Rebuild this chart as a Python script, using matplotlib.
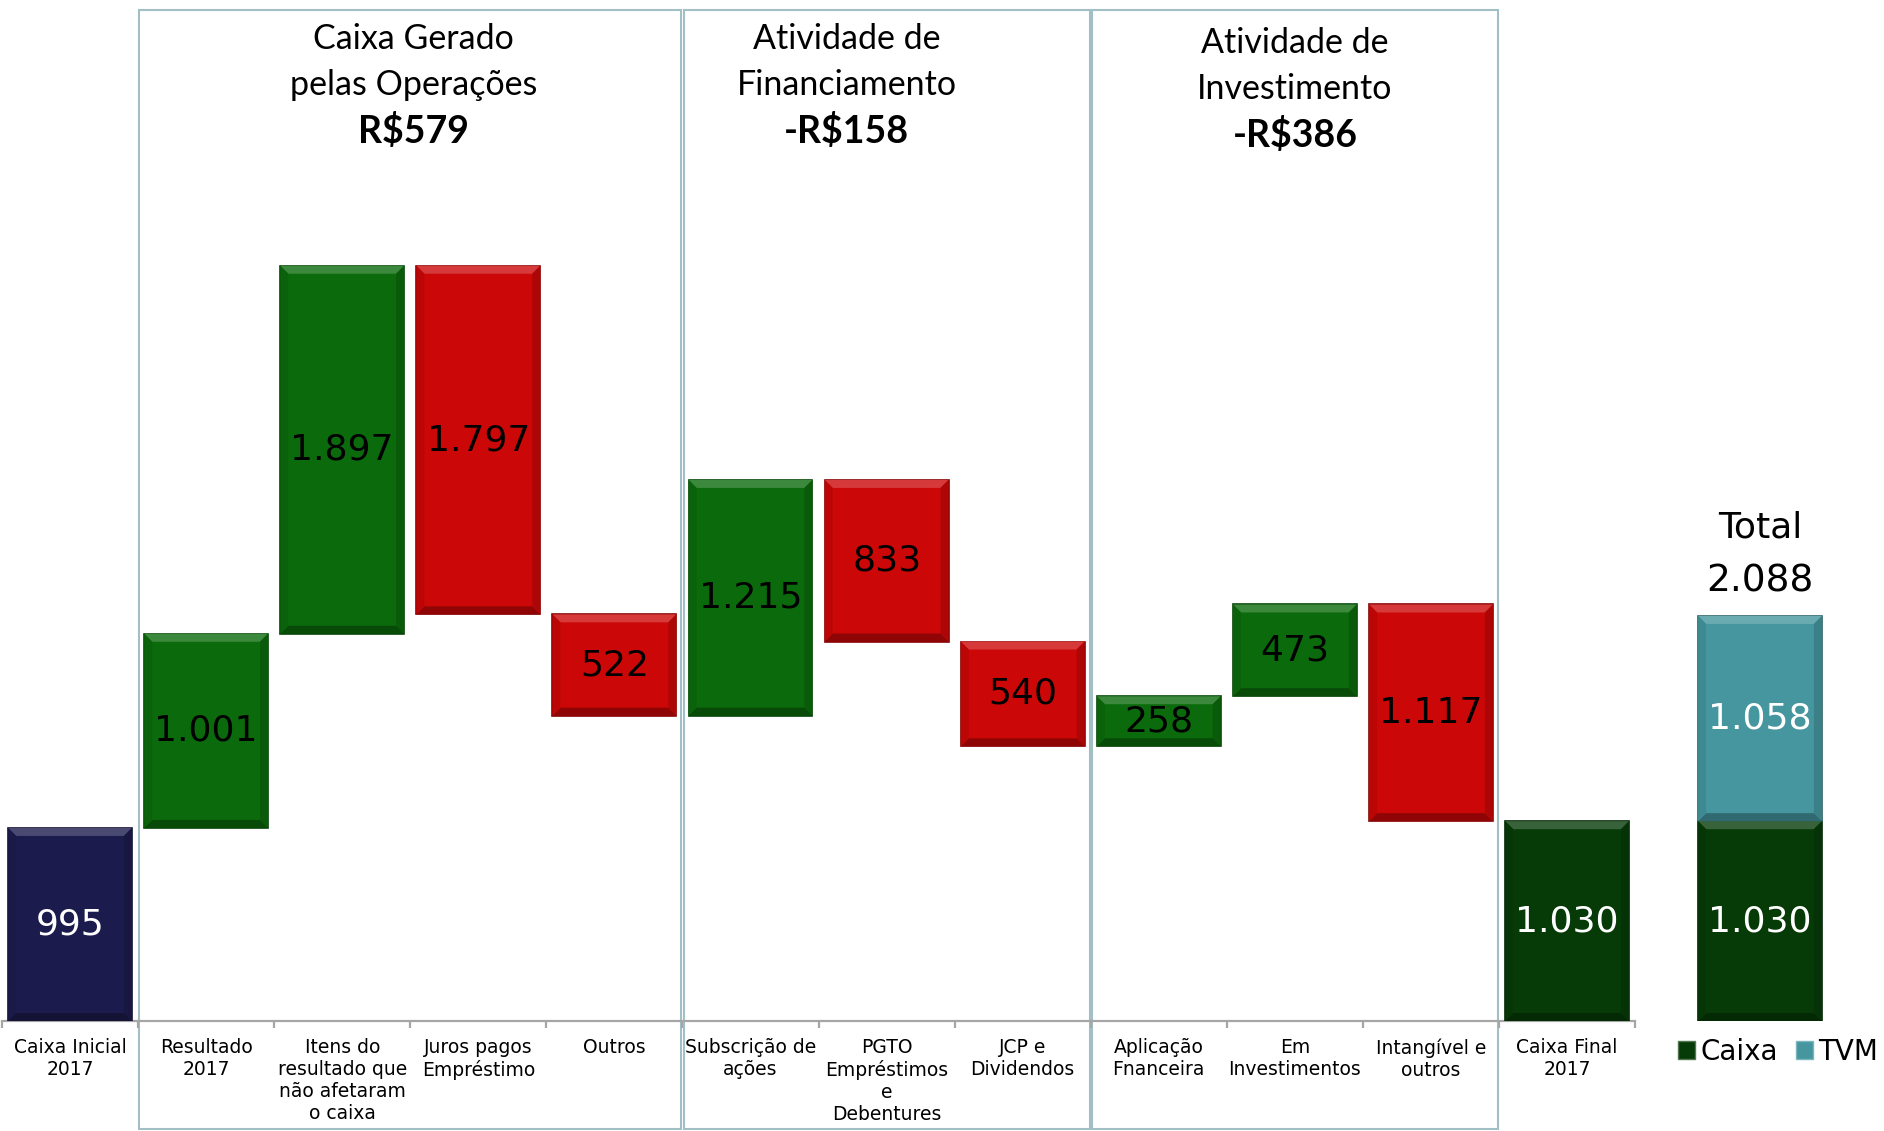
import matplotlib
matplotlib.use('Agg')
import matplotlib.pyplot as plt
from matplotlib.patches import Rectangle, Patch, Polygon
from matplotlib.colors import to_rgb
import numpy as np

# ---------------- data ----------------
categories = ["Caixa Inicial\n2017", "Resultado\n2017",
              "Itens do\nresultado que\nnão afetaram\no caixa",
              "Juros pagos\nEmpréstimo", "Outros", "Subscrição de\nações",
              "PGTO\nEmpréstimos\ne\nDebentures", "JCP e\nDividendos",
              "Aplicação\nFnanceira", "Em\nInvestimentos", "Intangível e\noutros",
              "Caixa Final\n2017"]
changes = [995, 1001, 1897, -1797, -522, 1215, -833, -540, 258, 473, -1117, 1030]
value_labels = ["995", "1.001", "1.897", "1.797", "522", "1.215", "833", "540",
                "258", "473", "1.117", "1.030"]
kinds = ["start", "pos", "pos", "neg", "neg", "pos", "neg", "neg", "pos", "pos", "neg", "end"]

total_series = ["Caixa", "TVM"]
total_values = [1030, 1058]
total_value_labels = ["1.030", "1.058"]
total_title = "Total"
total_sum_label = "2.088"

group_title_line1 = ["Caixa Gerado", "Atividade de", "Atividade de"]
group_title_line2 = ["pelas Operações", "Financiamento", "Investimento"]
group_values = ["R$579", "-R$158", "-R$386"]
group_spans = [(0.5, 4.5), (4.5, 7.5), (7.5, 10.5)]

# ---------------- style / layout ----------------
colors = {"start": "#1c1b4d", "pos": "#0b6a0b", "neg": "#cc0707",
          "end": "#063b07", "tvm": "#45969f"}
text_colors = {"start": "white", "pos": "black", "neg": "black", "end": "white"}
HEAD_FONT = ["Lato", "DejaVu Sans"]
header_x_shift_px = [3, -40, 0]       # header offsets relative to panel centre
header_y_shift_px = [0, 0, 4]

PX_PER_UNIT = 0.194       # vertical pixels per value unit
W, H = 1884, 1131
BASE_PX = 1021            # baseline pixel row from top
PX_PER_CAT = 136.1
X0_PX = 70                # centre of first category

fig = plt.figure(figsize=(W / 100, H / 100), dpi=100)
ax = fig.add_axes([0, (H - BASE_PX) / H, 1, BASE_PX / H])
xmin = -X0_PX / PX_PER_CAT
ax.set_xlim(xmin, xmin + W / PX_PER_CAT)
ax.set_ylim(0, BASE_PX / PX_PER_UNIT)
ax.axis('off')

def yrow(px_from_top):
    return (BASE_PX - px_from_top) / PX_PER_UNIT

def shade(c, f):
    r = np.array(to_rgb(c))
    if f >= 0:
        return tuple(r + (1 - r) * f)
    return tuple(r * (1 + f))

def bevel_bar(x, bottom, height, color, width=0.91):
    left = x - width / 2
    right = x + width / 2
    top = bottom + height
    ax.add_patch(Rectangle((left, bottom), width, height, facecolor=color,
                           edgecolor=shade(color, -0.35), linewidth=1.2, zorder=3))
    bx = 8 / PX_PER_CAT
    by = min(8 / PX_PER_UNIT, height / 3)
    ax.add_patch(Polygon([(left, top), (right, top), (right - bx, top - by), (left + bx, top - by)],
                         closed=True, facecolor=shade(color, 0.2), edgecolor='none', zorder=4))
    ax.add_patch(Polygon([(left, bottom), (right, bottom), (right - bx, bottom + by), (left + bx, bottom + by)],
                         closed=True, facecolor=shade(color, -0.3), edgecolor='none', zorder=4))
    ax.add_patch(Polygon([(right, top), (right, bottom), (right - bx, bottom + by), (right - bx, top - by)],
                         closed=True, facecolor=shade(color, -0.15), edgecolor='none', zorder=4))
    ax.add_patch(Polygon([(left, top), (left, bottom), (left + bx, bottom + by), (left + bx, top - by)],
                         closed=True, facecolor=shade(color, -0.08), edgecolor='none', zorder=4))

# ---------------- waterfall ----------------
running = 0
for i, (chg, lab, kind) in enumerate(zip(changes, value_labels, kinds)):
    if kind == "start":
        bottom, height = 0, chg
        running = chg
    elif kind == "end":
        bottom, height = 0, chg
    elif chg >= 0:
        bottom, height = running, chg
        running += chg
    else:
        bottom, height = running + chg, -chg
        running += chg
    bevel_bar(i, bottom, height, colors[kind])
    ax.text(i, bottom + height / 2, lab, ha='center', va='center', fontsize=26,
            color=text_colors[kind], family="DejaVu Sans", zorder=5)

# total stacked bar
xt = (1760 - X0_PX) / PX_PER_CAT
bevel_bar(xt, 0, total_values[0], colors["end"])
bevel_bar(xt, total_values[0], total_values[1], colors["tvm"])
ax.text(xt, total_values[0] / 2, total_value_labels[0], ha='center', va='center',
        fontsize=26, color='white', zorder=5)
ax.text(xt, total_values[0] + total_values[1] / 2, total_value_labels[1], ha='center',
        va='center', fontsize=26, color='white', zorder=5)
ax.text(xt, yrow(581), total_sum_label, ha='center', va='center', fontsize=27, color='black')
ax.text(xt, yrow(527), total_title, ha='center', va='center', fontsize=26, color='black')

# axis line & ticks
n = len(categories)
ax.plot([-0.5, n - 0.5], [0, 0], color='#a6a6a6', lw=1.6, clip_on=False, zorder=2)
tick_len = 7 / PX_PER_UNIT
ax.vlines(np.arange(n + 1) - 0.5, -tick_len, 0, color='#a6a6a6', lw=1.6, clip_on=False)

# category labels
for i, c in enumerate(categories):
    ax.text(i, -88, c, ha='center', va='top', fontsize=13.5, color='black',
            linespacing=1.2, clip_on=False)

# group panels
ybot = -(H - 2 - BASE_PX) / PX_PER_UNIT
ytop = yrow(10)
gap = 1.2 / PX_PER_CAT
for k, (a, b) in enumerate(group_spans):
    ax.add_patch(Rectangle((a + gap, ybot), (b - a) - 2 * gap, ytop - ybot, fill=False,
                           edgecolor='#a3bfc6', lw=1.5, clip_on=False, zorder=1))
    cx = (a + b) / 2 + header_x_shift_px[k] / PX_PER_CAT
    dy = header_y_shift_px[k]
    ax.text(cx, yrow(39 + dy), group_title_line1[k], ha='center', va='center',
            fontsize=24.5, family=HEAD_FONT)
    ax.text(cx, yrow(85 + dy), group_title_line2[k], ha='center', va='center',
            fontsize=24.5, family=HEAD_FONT)
    ax.text(cx, yrow(131 + dy), group_values[k], ha='center', va='center',
            fontsize=27, fontweight='bold', family=HEAD_FONT)

# legend
handles = [Patch(facecolor=colors["end"], edgecolor=shade(colors["end"], 0.3)),
           Patch(facecolor=colors["tvm"], edgecolor=shade(colors["tvm"], 0.3))]
fig.legend(handles, total_series, loc='center', bbox_to_anchor=(1778 / W, 1 - 1052 / H),
           ncol=2, frameon=False, fontsize=20, handlelength=0.6, handleheight=0.6,
           handletextpad=0.2, columnspacing=0.65, borderpad=0.1, borderaxespad=0.1)

fig.savefig("out.png", dpi=100)
